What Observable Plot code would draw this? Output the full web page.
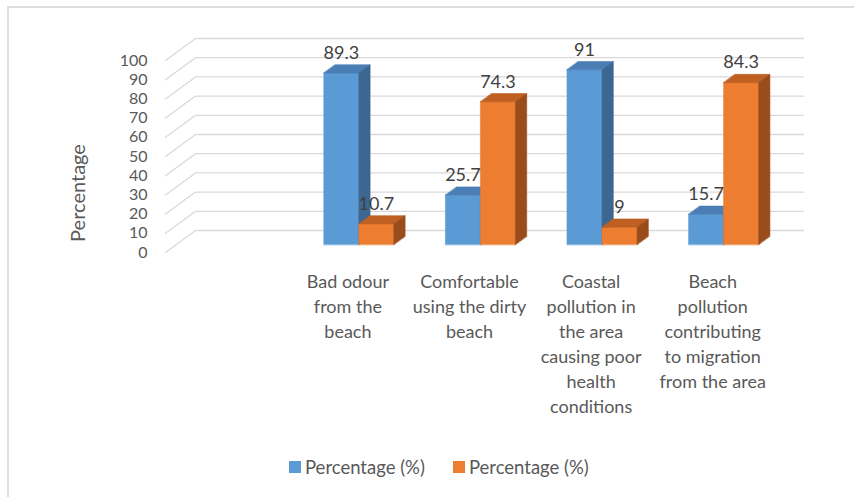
<!DOCTYPE html>
<html>
<head>
<meta charset="utf-8">
<script src="https://cdn.jsdelivr.net/npm/d3@7"></script>
<script src="https://cdn.jsdelivr.net/npm/@observablehq/plot@0.6"></script>
<style>
  html, body { margin: 0; padding: 0; background: #fff; overflow: hidden; }
  #chart { position: relative; width: 854px; height: 497px; font-family: Lato, "Open Sans", sans-serif; overflow: hidden; }
  #frame { position: absolute; left: 7px; top: 6px; width: 900px; height: 600px; border: 2px solid #dedede; box-sizing: border-box; }
  #plot { position: absolute; left: 0; top: 0; }
  #ytitle { position: absolute; left: 77px; top: 193px; transform: translate(-50%, -50%) rotate(-90deg); font-size: 20px; color: #595959; white-space: nowrap; }
  #legend { position: absolute; left: 289px; top: 456px; display: flex; align-items: center; font-size: 18.5px; color: #595959; }
  .item { display: flex; align-items: center; margin-right: 28px; }
  .swatch { width: 12px; height: 12px; margin-right: 4px; }
</style>
</head>
<body>
<div id="chart"><div id="frame"></div><div id="plot"></div><div id="ytitle">Percentage</div><div id="legend"></div></div>
<script>
// Survey responses: share of respondents (%) per statement, two response series
const categories = [
  "Bad odour from the beach",
  "Comfortable using the dirty beach",
  "Coastal pollution in the area causing poor health conditions",
  "Beach pollution contributing to migration from the area"
];
const categoryLabels = [
  "Bad odour\nfrom the\nbeach",
  "Comfortable\nusing the dirty\nbeach",
  "Coastal\npollution in\nthe area\ncausing poor\nhealth\nconditions",
  "Beach\npollution\ncontributing\nto migration\nfrom the area"
];
const seriesNames = ["Percentage (%)", "Percentage (%)"];
const seriesA = [89.3, 25.7, 91, 15.7];
const seriesB = [10.7, 74.3, 9, 84.3];
const yTicks = [0, 10, 20, 30, 40, 50, 60, 70, 80, 90, 100];

// face shades for each series: front, top, right side
const shades = [
  {front: "#5b9bd5", top: "#4a7eb4", side: "#3c6792"},
  {front: "#ed7d31", top: "#bf6022", side: "#9b4c1b"}
];

// frame geometry (front plane of the 3D box)
const W = 854, H = 440;
const left = 165, right = 773, floorY = 252, topY = 60;
const nSlots = categories.length + 1;          // one empty slot before the first category
const pxPerX = (right - left) / nSlots;
const pxPerY = (floorY - topY) / 100;
const depth = {dx: 30, dy: 22};                 // oblique depth vector in pixels
const proj = (x, v, z) => ({x: x + z * depth.dx / pxPerX, y: v + z * depth.dy / pxPerY});
const z0 = 0.364, z1 = 0.74;                    // bar depth span
const barW = 0.288;                             // bar width in slot units

const seriesValues = [seriesA, seriesB];

// polygons for every face of every bar
const faces = {front: [], top: [], side: []};
const labels = [];
seriesValues.forEach((vals, s) => {
  vals.forEach((v, i) => {
    const c = i + 1.5;
    const x1 = c + (s - 1) * barW, x2 = x1 + barW;
    const id = `${s}-${i}`;
    [proj(x1, 0, z0), proj(x1, v, z0), proj(x2, v, z0), proj(x2, 0, z0)]
      .forEach(p => faces.front.push({id, s, ...p}));
    [proj(x1, v, z0), proj(x2, v, z0), proj(x2, v, z1), proj(x1, v, z1)]
      .forEach(p => faces.top.push({id, s, ...p}));
    [proj(x2, 0, z0), proj(x2, v, z0), proj(x2, v, z1), proj(x2, 0, z1)]
      .forEach(p => faces.side.push({id, s, ...p}));
    labels.push({...proj((x1 + x2) / 2, v, z0), text: String(v)});
  });
});

// back wall and side wall gridlines
const grid = [];
yTicks.forEach(t => {
  [proj(0, t, 0), proj(0, t, 1), proj(nSlots, t, 1)].forEach(p => grid.push({t, ...p}));
});

const faceMarks = [];
[0, 1].forEach(s => {
  ["front", "top", "side"].forEach(k => {
    const col = shades[s][k];
    faceMarks.push(Plot.line(faces[k].filter(d => d.s === s), {
      x: "x", y: "y", z: "id", curve: "linear-closed",
      fill: col, stroke: col, strokeWidth: 0.6
    }));
  });
});

const chart = Plot.plot({
  width: W,
  height: H,
  marginLeft: left,
  marginRight: W - right,
  marginTop: topY,
  marginBottom: H - floorY,
  x: {domain: [0, nSlots], axis: null},
  y: {domain: [0, 100], axis: null},
  style: {fontFamily: "Lato, 'Open Sans', sans-serif", color: "#595959", background: "transparent", overflow: "visible"},
  marks: [
    Plot.line(grid, {x: "x", y: "y", z: "t", stroke: "#d9d9d9", strokeWidth: 1.3}),
    ...faceMarks,
    Plot.axisY(yTicks, {tickSize: 0, tickPadding: 18, fontSize: 16, label: null}),
    Plot.text(labels, {x: "x", y: "y", text: "text", dy: -20, fontSize: 18, fill: "#404040"}),
    Plot.text(categoryLabels, {
      x: (d, i) => i + 1.5, y: () => 0, text: d => d,
      lineAnchor: "top", dy: 18, lineHeight: 1.39, fontSize: 18, fill: "#595959"
    })
  ]
});
document.getElementById("plot").appendChild(chart);

// legend
const legend = document.getElementById("legend");
seriesNames.forEach((name, s) => {
  const item = document.createElement("div");
  item.className = "item";
  const sw = document.createElement("span");
  sw.className = "swatch";
  sw.style.background = shades[s].front;
  const label = document.createElement("span");
  label.textContent = name;
  item.appendChild(sw);
  item.appendChild(label);
  legend.appendChild(item);
});
</script>
</body>
</html>
